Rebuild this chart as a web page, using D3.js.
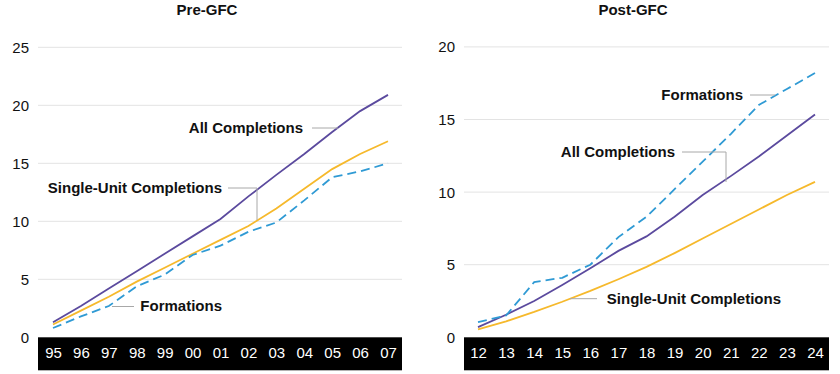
<!DOCTYPE html>
<html><head><meta charset="utf-8">
<script src="https://cdn.jsdelivr.net/npm/d3@7"></script>
<style>body{margin:0;background:#fff}svg{display:block}text{font-family:"Liberation Sans",Arial,sans-serif}</style>
</head><body><svg id="c" width="840" height="374"></svg>
<script>
// ---- Data ----
const preYears = ["95","96","97","98","99","00","01","02","03","04","05","06","07"];
const preAll = [1.3, 2.7, 4.2, 5.7, 7.2, 8.7, 10.2, 12.15, 14.0, 15.8, 17.7, 19.5, 20.9];
const preSingle = [1.1, 2.3, 3.5, 4.8, 6.0, 7.2, 8.4, 9.6, 11.1, 12.8, 14.5, 15.8, 16.9];
const preFormations = [0.8, 1.8, 2.7, 4.4, 5.4, 7.1, 7.9, 9.1, 9.9, 11.8, 13.8, 14.3, 15.0];
const preTicks = [0, 5, 10, 15, 20, 25];

const postYears = ["12","13","14","15","16","17","18","19","20","21","22","23","24"];
const postAll = [0.7, 1.55, 2.5, 3.6, 4.75, 5.95, 6.95, 8.3, 9.8, 11.1, 12.45, 13.9, 15.35];
const postSingle = [0.55, 1.1, 1.75, 2.45, 3.2, 4.0, 4.85, 5.8, 6.8, 7.8, 8.8, 9.8, 10.7];
const postFormations = [1.05, 1.5, 3.8, 4.1, 5.0, 6.9, 8.3, 10.2, 12.1, 14.0, 16.0, 17.1, 18.2];
const postTicks = [0, 5, 10, 15, 20];

const COL = {all:"#5b4a9e", single:"#f6b92c", form:"#2f9ad4"};
const svg = d3.select("#c");

function panel(o){
  const g = svg.append("g");
  const x = d3.scalePoint().domain(o.years).range(o.xr);
  const y = d3.scaleLinear().domain([0, o.ymax]).range([337.3, o.ytop]);
  // gridlines
  g.selectAll("line.grid").data(o.ticks.filter(t=>t>0)).enter().append("line")
    .attr("x1", o.gx[0]).attr("x2", o.gx[1])
    .attr("y1", d=>y(d)).attr("y2", d=>y(d))
    .attr("stroke", "#e3e3e3").attr("stroke-width", 1);
  // y tick labels
  g.selectAll("text.yt").data(o.ticks).enter().append("text")
    .attr("x", o.gx[0]-9).attr("y", d=>y(d)).attr("dy", "0.36em")
    .attr("text-anchor", "end").attr("font-size", 15).attr("fill", "#111")
    .text(d=>d);
  // black band with x labels
  g.append("rect").attr("x", o.gx[0]).attr("y", y(0)).attr("width", o.gx[1]-o.gx[0]).attr("height", 33).attr("fill", "#000");
  const ax = g.append("g").attr("transform", `translate(0,${y(0)})`)
    .call(d3.axisBottom(x).tickSize(0).tickPadding(10));
  ax.select(".domain").remove();
  ax.selectAll("text").attr("fill", "#fff").attr("font-size", 15)
    .attr("font-family", '"Liberation Sans",Arial,sans-serif');
  // title
  g.append("text").attr("x", o.tx).attr("y", 15).attr("text-anchor", "middle")
    .attr("font-size", 15).attr("font-weight", "bold").attr("fill", "#111").text(o.title);
  // lines
  const line = d3.line().x((d,i)=>x(o.years[i])).y(d=>y(d));
  const series = [
    {v:o.single, c:COL.single, dash:null},
    {v:o.all, c:COL.all, dash:null},
    {v:o.form, c:COL.form, dash:"9,5"}
  ];
  series.forEach(s=>{
    g.append("path").datum(s.v).attr("d", line).attr("fill", "none")
      .attr("stroke", s.c).attr("stroke-width", 1.8)
      .attr("stroke-dasharray", s.dash);
  });
  // annotations
  o.notes.forEach(n=>{
    g.append("polyline").attr("points", n.pts.map(p=>p.join(",")).join(" "))
      .attr("fill", "none").attr("stroke", "#a8a8a8").attr("stroke-width", 1);
    g.append("text").attr("x", n.tx).attr("y", n.ty).attr("dy", "0.36em")
      .attr("text-anchor", "end").attr("font-size", 15).attr("font-weight", "bold")
      .attr("fill", "#111").text(n.text);
  });
}

panel({years:preYears, all:preAll, single:preSingle, form:preFormations, ticks:preTicks,
  ymax:25, ytop:47.3, xr:[53,388], gx:[38,402], tx:207, title:"Pre-GFC",
  notes:[
    {text:"All Completions", tx:303, ty:128, pts:[[312,128],[338,128]]},
    {text:"Single-Unit Completions", tx:222, ty:188, pts:[[228,188],[257,188],[257,220]]},
    {text:"Formations", tx:222, ty:305.5, pts:[[112,306.5],[134,306.5]]}
  ]});

panel({years:postYears, all:postAll, single:postSingle, form:postFormations, ticks:postTicks,
  ymax:20, ytop:46.9, xr:[478,815], gx:[464,829], tx:633, title:"Post-GFC",
  notes:[
    {text:"Formations", tx:743, ty:94.5, pts:[[750,95],[775,95]]},
    {text:"All Completions", tx:675, ty:151.5, pts:[[682,152],[726,152],[726,182]]},
    {text:"Single-Unit Completions", tx:781, ty:298.5, pts:[[570,298.7],[597,298.7]]}
  ]});
</script></body></html>
